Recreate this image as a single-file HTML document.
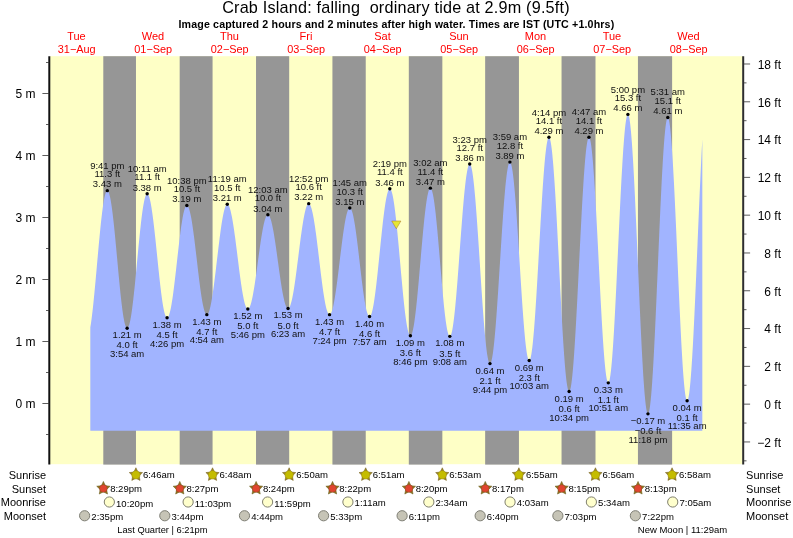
<!DOCTYPE html>
<html lang="en"><head><meta charset="utf-8"><title>Crab Island tide times</title>
<style>html,body{margin:0;padding:0;background:#fff}body{width:793px;height:538px;overflow:hidden}svg{display:block}text{font-family:"Liberation Sans","Arimo","Helvetica","Arial",sans-serif}</style>
</head><body>
<svg width="793" height="538" viewBox="0 0 793 538" role="img" aria-label="Crab Island tide chart">
<rect width="793" height="538" fill="#fff"/>
<rect x="50.00" y="56.20" width="692.50" height="408.00" fill="#feffc6"/>
<rect x="103.29" y="56.20" width="32.68" height="408.40" fill="#969696"/>
<rect x="179.68" y="56.20" width="32.89" height="408.40" fill="#969696"/>
<rect x="256.03" y="56.20" width="33.16" height="408.40" fill="#969696"/>
<rect x="332.42" y="56.20" width="33.32" height="408.40" fill="#969696"/>
<rect x="408.81" y="56.20" width="33.53" height="408.40" fill="#969696"/>
<rect x="485.15" y="56.20" width="33.79" height="408.40" fill="#969696"/>
<rect x="561.55" y="56.20" width="33.95" height="408.40" fill="#969696"/>
<rect x="637.94" y="56.20" width="34.17" height="408.40" fill="#969696"/>
<path d="M90.32,430.80 L90.32,327.35 L90.75,324.64 L91.19,321.67 L91.63,318.44 L92.06,314.98 L92.50,311.28 L92.94,307.38 L93.38,303.29 L93.81,299.03 L94.25,294.61 L94.69,290.06 L95.12,285.40 L95.56,280.64 L96.00,275.81 L96.44,270.93 L96.87,266.02 L97.31,261.10 L97.75,256.20 L98.18,251.33 L98.62,246.52 L99.06,241.80 L99.50,237.17 L99.93,232.66 L100.37,228.30 L100.81,224.09 L101.24,220.07 L101.68,216.24 L102.12,212.62 L102.56,209.24 L102.99,206.10 L103.43,203.22 L103.87,200.61 L104.30,198.28 L104.74,196.25 L105.18,194.52 L105.62,193.11 L106.05,192.00 L106.49,191.22 L106.93,190.77 L107.36,190.64 L107.80,190.84 L108.24,191.38 L108.68,192.23 L109.11,193.41 L109.55,194.91 L109.99,196.72 L110.42,198.83 L110.86,201.23 L111.30,203.91 L111.74,206.86 L112.17,210.06 L112.61,213.49 L113.05,217.15 L113.48,221.01 L113.92,225.05 L114.36,229.26 L114.80,233.62 L115.23,238.10 L115.67,242.68 L116.11,247.34 L116.54,252.06 L116.98,256.82 L117.42,261.59 L117.86,266.35 L118.29,271.07 L118.73,275.74 L119.17,280.33 L119.60,284.82 L120.04,289.19 L120.48,293.42 L120.92,297.48 L121.35,301.36 L121.79,305.04 L122.23,308.51 L122.66,311.73 L123.10,314.71 L123.54,317.41 L123.98,319.85 L124.41,321.99 L124.85,323.83 L125.29,325.36 L125.72,326.57 L126.16,327.47 L126.60,328.03 L127.04,328.27 L127.47,328.18 L127.91,327.78 L128.35,327.06 L128.78,326.03 L129.22,324.70 L129.66,323.06 L130.10,321.14 L130.53,318.93 L130.97,316.45 L131.41,313.71 L131.84,310.72 L132.28,307.50 L132.72,304.06 L133.16,300.41 L133.59,296.59 L134.03,292.59 L134.47,288.45 L134.90,284.17 L135.34,279.79 L135.78,275.32 L136.22,270.79 L136.65,266.20 L137.09,261.59 L137.53,256.98 L137.96,252.39 L138.40,247.84 L138.84,243.35 L139.28,238.95 L139.71,234.64 L140.15,230.47 L140.59,226.43 L141.02,222.56 L141.46,218.87 L141.90,215.37 L142.34,212.10 L142.77,209.05 L143.21,206.24 L143.65,203.69 L144.08,201.42 L144.52,199.42 L144.96,197.71 L145.40,196.30 L145.83,195.19 L146.27,194.39 L146.71,193.91 L147.14,193.74 L147.58,193.88 L148.02,194.31 L148.46,195.03 L148.89,196.04 L149.33,197.34 L149.77,198.91 L150.20,200.75 L150.64,202.85 L151.08,205.21 L151.52,207.80 L151.95,210.63 L152.39,213.66 L152.83,216.90 L153.26,220.32 L153.70,223.91 L154.14,227.65 L154.58,231.52 L155.01,235.51 L155.45,239.60 L155.89,243.76 L156.32,247.98 L156.76,252.23 L157.20,256.50 L157.64,260.77 L158.07,265.02 L158.51,269.22 L158.95,273.35 L159.38,277.41 L159.82,281.36 L160.26,285.19 L160.70,288.87 L161.13,292.40 L161.57,295.76 L162.01,298.93 L162.44,301.89 L162.88,304.63 L163.32,307.14 L163.76,309.41 L164.19,311.42 L164.63,313.16 L165.07,314.64 L165.50,315.83 L165.94,316.74 L166.38,317.36 L166.82,317.69 L167.25,317.72 L167.69,317.48 L168.13,316.97 L168.56,316.19 L169.00,315.15 L169.44,313.85 L169.88,312.29 L170.31,310.50 L170.75,308.47 L171.19,306.21 L171.62,303.73 L172.06,301.06 L172.50,298.19 L172.94,295.15 L173.37,291.94 L173.81,288.59 L174.25,285.11 L174.68,281.51 L175.12,277.82 L175.56,274.05 L176.00,270.22 L176.43,266.35 L176.87,262.46 L177.31,258.56 L177.74,254.68 L178.18,250.83 L178.62,247.03 L179.06,243.30 L179.49,239.66 L179.93,236.13 L180.37,232.72 L180.80,229.45 L181.24,226.34 L181.68,223.40 L182.12,220.64 L182.55,218.08 L182.99,215.72 L183.43,213.59 L183.86,211.70 L184.30,210.04 L184.74,208.63 L185.18,207.48 L185.61,206.59 L186.05,205.97 L186.49,205.61 L186.92,205.52 L187.36,205.70 L187.80,206.13 L188.24,206.82 L188.67,207.76 L189.11,208.95 L189.55,210.38 L189.98,212.04 L190.42,213.93 L190.86,216.04 L191.30,218.36 L191.73,220.87 L192.17,223.57 L192.61,226.44 L193.04,229.47 L193.48,232.65 L193.92,235.95 L194.36,239.37 L194.79,242.89 L195.23,246.48 L195.67,250.15 L196.10,253.85 L196.54,257.59 L196.98,261.34 L197.42,265.09 L197.85,268.81 L198.29,272.49 L198.73,276.11 L199.16,279.65 L199.60,283.11 L200.04,286.45 L200.48,289.67 L200.91,292.75 L201.35,295.67 L201.79,298.43 L202.22,301.00 L202.66,303.39 L203.10,305.56 L203.54,307.53 L203.97,309.27 L204.41,310.77 L204.85,312.04 L205.28,313.06 L205.72,313.83 L206.16,314.35 L206.60,314.61 L207.03,314.61 L207.47,314.36 L207.91,313.87 L208.34,313.13 L208.78,312.15 L209.22,310.93 L209.66,309.48 L210.09,307.81 L210.53,305.92 L210.97,303.81 L211.40,301.51 L211.84,299.02 L212.28,296.35 L212.72,293.51 L213.15,290.52 L213.59,287.39 L214.03,284.14 L214.46,280.77 L214.90,277.30 L215.34,273.76 L215.78,270.15 L216.21,266.50 L216.65,262.81 L217.09,259.11 L217.52,255.40 L217.96,251.72 L218.40,248.07 L218.84,244.48 L219.27,240.95 L219.71,237.50 L220.15,234.15 L220.58,230.92 L221.02,227.82 L221.46,224.86 L221.90,222.05 L222.33,219.41 L222.77,216.96 L223.21,214.69 L223.64,212.63 L224.08,210.77 L224.52,209.14 L224.96,207.74 L225.39,206.56 L225.83,205.63 L226.27,204.94 L226.70,204.49 L227.14,204.29 L227.58,204.34 L228.02,204.62 L228.45,205.13 L228.89,205.87 L229.33,206.84 L229.76,208.03 L230.20,209.44 L230.64,211.06 L231.08,212.88 L231.51,214.90 L231.95,217.10 L232.39,219.49 L232.82,222.03 L233.26,224.73 L233.70,227.58 L234.14,230.55 L234.57,233.64 L235.01,236.83 L235.45,240.11 L235.88,243.47 L236.32,246.88 L236.76,250.34 L237.20,253.82 L237.63,257.32 L238.07,260.82 L238.51,264.29 L238.94,267.73 L239.38,271.13 L239.82,274.46 L240.26,277.71 L240.69,280.86 L241.13,283.91 L241.57,286.84 L242.00,289.63 L242.44,292.27 L242.88,294.76 L243.32,297.08 L243.75,299.21 L244.19,301.16 L244.63,302.90 L245.06,304.45 L245.50,305.77 L245.94,306.88 L246.38,307.77 L246.81,308.43 L247.25,308.85 L247.69,309.05 L248.12,309.01 L248.56,308.75 L249.00,308.27 L249.44,307.58 L249.87,306.66 L250.31,305.54 L250.75,304.22 L251.18,302.69 L251.62,300.98 L252.06,299.08 L252.50,297.00 L252.93,294.76 L253.37,292.37 L253.81,289.83 L254.24,287.16 L254.68,284.38 L255.12,281.49 L255.56,278.50 L255.99,275.44 L256.43,272.32 L256.87,269.14 L257.30,265.93 L257.74,262.71 L258.18,259.48 L258.62,256.26 L259.05,253.07 L259.49,249.92 L259.93,246.83 L260.36,243.80 L260.80,240.87 L261.24,238.03 L261.68,235.30 L262.11,232.70 L262.55,230.24 L262.99,227.92 L263.42,225.77 L263.86,223.79 L264.30,221.98 L264.74,220.36 L265.17,218.94 L265.61,217.72 L266.05,216.71 L266.48,215.91 L266.92,215.33 L267.36,214.97 L267.80,214.82 L268.23,214.90 L268.67,215.19 L269.11,215.70 L269.54,216.42 L269.98,217.35 L270.42,218.48 L270.86,219.82 L271.29,221.34 L271.73,223.06 L272.17,224.95 L272.60,227.01 L273.04,229.23 L273.48,231.61 L273.92,234.12 L274.35,236.75 L274.79,239.51 L275.23,242.36 L275.66,245.31 L276.10,248.33 L276.54,251.41 L276.98,254.54 L277.41,257.70 L277.85,260.88 L278.29,264.06 L278.72,267.23 L279.16,270.38 L279.60,273.49 L280.04,276.54 L280.47,279.52 L280.91,282.42 L281.35,285.22 L281.78,287.91 L282.22,290.49 L282.66,292.92 L283.10,295.22 L283.53,297.36 L283.97,299.33 L284.41,301.13 L284.84,302.75 L285.28,304.17 L285.72,305.40 L286.16,306.43 L286.59,307.25 L287.03,307.86 L287.47,308.25 L287.90,308.43 L288.34,308.39 L288.78,308.12 L289.22,307.62 L289.65,306.89 L290.09,305.93 L290.53,304.76 L290.96,303.37 L291.40,301.77 L291.84,299.98 L292.28,297.98 L292.71,295.80 L293.15,293.45 L293.59,290.93 L294.02,288.26 L294.46,285.44 L294.90,282.50 L295.34,279.44 L295.77,276.27 L296.21,273.02 L296.65,269.69 L297.08,266.30 L297.52,262.87 L297.96,259.40 L298.40,255.92 L298.83,252.44 L299.27,248.98 L299.71,245.55 L300.14,242.16 L300.58,238.84 L301.02,235.59 L301.46,232.44 L301.89,229.38 L302.33,226.45 L302.77,223.64 L303.20,220.98 L303.64,218.47 L304.08,216.13 L304.52,213.97 L304.95,211.99 L305.39,210.20 L305.83,208.62 L306.26,207.25 L306.70,206.09 L307.14,205.15 L307.58,204.44 L308.01,203.96 L308.45,203.70 L308.89,203.68 L309.32,203.90 L309.76,204.35 L310.20,205.05 L310.64,205.98 L311.07,207.14 L311.51,208.53 L311.95,210.14 L312.38,211.96 L312.82,213.98 L313.26,216.21 L313.70,218.61 L314.13,221.20 L314.57,223.95 L315.01,226.85 L315.44,229.90 L315.88,233.07 L316.32,236.35 L316.76,239.74 L317.19,243.20 L317.63,246.74 L318.07,250.33 L318.50,253.96 L318.94,257.61 L319.38,261.27 L319.82,264.92 L320.25,268.55 L320.69,272.13 L321.13,275.66 L321.56,279.11 L322.00,282.48 L322.44,285.75 L322.88,288.90 L323.31,291.92 L323.75,294.80 L324.19,297.52 L324.62,300.08 L325.06,302.46 L325.50,304.65 L325.94,306.65 L326.37,308.44 L326.81,310.01 L327.25,311.36 L327.68,312.49 L328.12,313.38 L328.56,314.04 L329.00,314.45 L329.43,314.63 L329.87,314.57 L330.31,314.26 L330.74,313.71 L331.18,312.91 L331.62,311.88 L332.06,310.62 L332.49,309.13 L332.93,307.42 L333.37,305.49 L333.80,303.37 L334.24,301.05 L334.68,298.55 L335.12,295.87 L335.55,293.04 L335.99,290.06 L336.43,286.95 L336.86,283.72 L337.30,280.39 L337.74,276.97 L338.18,273.48 L338.61,269.93 L339.05,266.34 L339.49,262.73 L339.92,259.12 L340.36,255.51 L340.80,251.93 L341.24,248.39 L341.67,244.91 L342.11,241.51 L342.55,238.20 L342.98,235.00 L343.42,231.91 L343.86,228.97 L344.30,226.17 L344.73,223.53 L345.17,221.07 L345.61,218.79 L346.04,216.71 L346.48,214.83 L346.92,213.17 L347.36,211.72 L347.79,210.51 L348.23,209.53 L348.67,208.79 L349.10,208.29 L349.54,208.04 L349.98,208.03 L350.42,208.28 L350.85,208.79 L351.29,209.56 L351.73,210.58 L352.16,211.86 L352.60,213.37 L353.04,215.12 L353.48,217.10 L353.91,219.30 L354.35,221.71 L354.79,224.31 L355.22,227.09 L355.66,230.05 L356.10,233.15 L356.54,236.40 L356.97,239.78 L357.41,243.26 L357.85,246.84 L358.28,250.48 L358.72,254.19 L359.16,257.93 L359.60,261.70 L360.03,265.47 L360.47,269.22 L360.91,272.94 L361.34,276.61 L361.78,280.20 L362.22,283.72 L362.66,287.12 L363.09,290.41 L363.53,293.56 L363.97,296.56 L364.40,299.40 L364.84,302.05 L365.28,304.52 L365.72,306.78 L366.15,308.82 L366.59,310.64 L367.03,312.23 L367.46,313.57 L367.90,314.67 L368.34,315.51 L368.78,316.10 L369.21,316.43 L369.65,316.49 L370.09,316.27 L370.52,315.76 L370.96,314.96 L371.40,313.88 L371.84,312.51 L372.27,310.87 L372.71,308.97 L373.15,306.80 L373.58,304.39 L374.02,301.74 L374.46,298.87 L374.90,295.79 L375.33,292.50 L375.77,289.04 L376.21,285.41 L376.64,281.63 L377.08,277.71 L377.52,273.68 L377.96,269.56 L378.39,265.35 L378.83,261.09 L379.27,256.79 L379.70,252.47 L380.14,248.16 L380.58,243.86 L381.02,239.60 L381.45,235.41 L381.89,231.29 L382.33,227.27 L382.76,223.36 L383.20,219.59 L383.64,215.97 L384.08,212.52 L384.51,209.25 L384.95,206.18 L385.39,203.33 L385.82,200.70 L386.26,198.30 L386.70,196.16 L387.14,194.27 L387.57,192.65 L388.01,191.31 L388.45,190.25 L388.88,189.47 L389.32,188.98 L389.76,188.78 L390.20,188.89 L390.63,189.33 L391.07,190.09 L391.51,191.17 L391.94,192.57 L392.38,194.27 L392.82,196.29 L393.26,198.59 L393.69,201.18 L394.13,204.05 L394.57,207.17 L395.00,210.54 L395.44,214.14 L395.88,217.95 L396.32,221.96 L396.75,226.15 L397.19,230.50 L397.63,235.00 L398.06,239.61 L398.50,244.33 L398.94,249.12 L399.38,253.98 L399.81,258.87 L400.25,263.78 L400.69,268.67 L401.12,273.55 L401.56,278.37 L402.00,283.11 L402.44,287.77 L402.87,292.31 L403.31,296.72 L403.75,300.97 L404.18,305.05 L404.62,308.94 L405.06,312.63 L405.50,316.08 L405.93,319.30 L406.37,322.26 L406.81,324.96 L407.24,327.37 L407.68,329.50 L408.12,331.32 L408.56,332.84 L408.99,334.04 L409.43,334.92 L409.87,335.48 L410.30,335.71 L410.74,335.61 L411.18,335.16 L411.62,334.36 L412.05,333.22 L412.49,331.75 L412.93,329.94 L413.36,327.81 L413.80,325.38 L414.24,322.64 L414.68,319.61 L415.11,316.32 L415.55,312.76 L415.99,308.97 L416.42,304.95 L416.86,300.73 L417.30,296.33 L417.74,291.76 L418.17,287.05 L418.61,282.23 L419.05,277.31 L419.48,272.31 L419.92,267.27 L420.36,262.20 L420.80,257.14 L421.23,252.09 L421.67,247.09 L422.11,242.16 L422.54,237.32 L422.98,232.60 L423.42,228.02 L423.86,223.60 L424.29,219.36 L424.73,215.32 L425.17,211.50 L425.60,207.92 L426.04,204.60 L426.48,201.54 L426.92,198.78 L427.35,196.31 L427.79,194.15 L428.23,192.31 L428.66,190.80 L429.10,189.62 L429.54,188.79 L429.98,188.30 L430.41,188.16 L430.85,188.38 L431.29,188.97 L431.72,189.93 L432.16,191.25 L432.60,192.92 L433.04,194.93 L433.47,197.28 L433.91,199.96 L434.35,202.95 L434.78,206.23 L435.22,209.79 L435.66,213.61 L436.10,217.68 L436.53,221.97 L436.97,226.46 L437.41,231.12 L437.84,235.94 L438.28,240.90 L438.72,245.96 L439.16,251.10 L439.59,256.30 L440.03,261.52 L440.47,266.75 L440.90,271.96 L441.34,277.12 L441.78,282.21 L442.22,287.19 L442.65,292.05 L443.09,296.77 L443.53,301.31 L443.96,305.65 L444.40,309.78 L444.84,313.67 L445.28,317.31 L445.71,320.67 L446.15,323.74 L446.59,326.50 L447.02,328.95 L447.46,331.06 L447.90,332.83 L448.34,334.24 L448.77,335.30 L449.21,335.99 L449.65,336.31 L450.08,336.26 L450.52,335.80 L450.96,334.94 L451.40,333.67 L451.83,332.00 L452.27,329.95 L452.71,327.52 L453.14,324.72 L453.58,321.56 L454.02,318.07 L454.46,314.25 L454.89,310.13 L455.33,305.73 L455.77,301.06 L456.20,296.15 L456.64,291.02 L457.08,285.69 L457.52,280.20 L457.95,274.56 L458.39,268.81 L458.83,262.97 L459.26,257.07 L459.70,251.14 L460.14,245.20 L460.58,239.29 L461.01,233.42 L461.45,227.64 L461.89,221.96 L462.32,216.42 L462.76,211.04 L463.20,205.84 L463.64,200.86 L464.07,196.11 L464.51,191.61 L464.95,187.39 L465.38,183.48 L465.82,179.87 L466.26,176.61 L466.70,173.69 L467.13,171.13 L467.57,168.95 L468.01,167.16 L468.44,165.76 L468.88,164.76 L469.32,164.17 L469.76,163.98 L470.19,164.23 L470.63,164.94 L471.07,166.11 L471.50,167.72 L471.94,169.78 L472.38,172.27 L472.82,175.18 L473.25,178.50 L473.69,182.21 L474.13,186.30 L474.56,190.74 L475.00,195.52 L475.44,200.61 L475.88,206.00 L476.31,211.65 L476.75,217.54 L477.19,223.64 L477.62,229.93 L478.06,236.37 L478.50,242.94 L478.94,249.61 L479.37,256.34 L479.81,263.11 L480.25,269.88 L480.68,276.62 L481.12,283.30 L481.56,289.89 L482.00,296.36 L482.43,302.69 L482.87,308.83 L483.31,314.77 L483.74,320.47 L484.18,325.91 L484.62,331.06 L485.06,335.91 L485.49,340.42 L485.93,344.58 L486.37,348.37 L486.80,351.77 L487.24,354.77 L487.68,357.35 L488.12,359.49 L488.55,361.20 L488.99,362.46 L489.43,363.26 L489.86,363.61 L490.30,363.49 L490.74,362.89 L491.18,361.82 L491.61,360.28 L492.05,358.27 L492.49,355.82 L492.92,352.92 L493.36,349.59 L493.80,345.85 L494.24,341.72 L494.67,337.22 L495.11,332.35 L495.55,327.16 L495.98,321.67 L496.42,315.89 L496.86,309.87 L497.30,303.62 L497.73,297.17 L498.17,290.57 L498.61,283.83 L499.04,276.99 L499.48,270.09 L499.92,263.15 L500.36,256.21 L500.79,249.30 L501.23,242.45 L501.67,235.71 L502.10,229.09 L502.54,222.63 L502.98,216.36 L503.42,210.32 L503.85,204.52 L504.29,199.00 L504.73,193.79 L505.16,188.90 L505.60,184.36 L506.04,180.20 L506.48,176.43 L506.91,173.07 L507.35,170.14 L507.79,167.65 L508.22,165.60 L508.66,164.03 L509.10,162.92 L509.54,162.28 L509.97,162.13 L510.41,162.46 L510.85,163.30 L511.28,164.63 L511.72,166.45 L512.16,168.74 L512.60,171.50 L513.03,174.72 L513.47,178.37 L513.91,182.44 L514.34,186.91 L514.78,191.75 L515.22,196.94 L515.66,202.46 L516.09,208.27 L516.53,214.36 L516.97,220.67 L517.40,227.20 L517.84,233.89 L518.28,240.73 L518.72,247.66 L519.15,254.67 L519.59,261.71 L520.03,268.75 L520.46,275.75 L520.90,282.68 L521.34,289.50 L521.78,296.18 L522.21,302.68 L522.65,308.97 L523.09,315.03 L523.52,320.81 L523.96,326.29 L524.40,331.45 L524.84,336.25 L525.27,340.67 L525.71,344.70 L526.15,348.30 L526.58,351.47 L527.02,354.18 L527.46,356.42 L527.90,358.18 L528.33,359.46 L528.77,360.24 L529.21,360.52 L529.64,360.28 L530.08,359.50 L530.52,358.19 L530.96,356.35 L531.39,353.98 L531.83,351.10 L532.27,347.73 L532.70,343.88 L533.14,339.57 L533.58,334.82 L534.02,329.65 L534.45,324.09 L534.89,318.16 L535.33,311.90 L535.76,305.33 L536.20,298.49 L536.64,291.41 L537.08,284.12 L537.51,276.67 L537.95,269.07 L538.39,261.38 L538.82,253.63 L539.26,245.86 L539.70,238.10 L540.14,230.39 L540.57,222.77 L541.01,215.28 L541.45,207.96 L541.88,200.83 L542.32,193.93 L542.76,187.30 L543.20,180.98 L543.63,174.98 L544.07,169.34 L544.51,164.08 L544.94,159.24 L545.38,154.83 L545.82,150.88 L546.26,147.41 L546.69,144.43 L547.13,141.95 L547.57,140.00 L548.00,138.57 L548.44,137.68 L548.88,137.33 L549.32,137.53 L549.75,138.33 L550.19,139.70 L550.63,141.66 L551.06,144.18 L551.50,147.26 L551.94,150.87 L552.38,155.02 L552.81,159.67 L553.25,164.81 L553.69,170.40 L554.12,176.43 L554.56,182.87 L555.00,189.69 L555.44,196.85 L555.87,204.32 L556.31,212.08 L556.75,220.07 L557.18,228.27 L557.62,236.64 L558.06,245.13 L558.50,253.71 L558.93,262.35 L559.37,270.99 L559.81,279.60 L560.24,288.15 L560.68,296.58 L561.12,304.86 L561.56,312.96 L561.99,320.83 L562.43,328.45 L562.87,335.76 L563.30,342.75 L563.74,349.37 L564.18,355.60 L564.62,361.41 L565.05,366.77 L565.49,371.65 L565.93,376.04 L566.36,379.92 L566.80,383.26 L567.24,386.05 L567.68,388.27 L568.11,389.93 L568.55,391.00 L568.99,391.49 L569.42,391.38 L569.86,390.67 L570.30,389.35 L570.74,387.43 L571.17,384.92 L571.61,381.83 L572.05,378.18 L572.48,373.98 L572.92,369.26 L573.36,364.03 L573.80,358.32 L574.23,352.17 L574.67,345.59 L575.11,338.62 L575.54,331.30 L575.98,323.65 L576.42,315.72 L576.86,307.54 L577.29,299.16 L577.73,290.61 L578.17,281.94 L578.60,273.18 L579.04,264.37 L579.48,255.57 L579.92,246.81 L580.35,238.14 L580.79,229.59 L581.23,221.21 L581.66,213.04 L582.10,205.11 L582.54,197.47 L582.98,190.15 L583.41,183.18 L583.85,176.61 L584.29,170.46 L584.72,164.75 L585.16,159.53 L585.60,154.81 L586.04,150.62 L586.47,146.97 L586.91,143.89 L587.35,141.39 L587.78,139.47 L588.22,138.16 L588.66,137.45 L589.10,137.36 L589.53,137.88 L589.97,139.01 L590.41,140.76 L590.84,143.11 L591.28,146.04 L591.72,149.56 L592.16,153.63 L592.59,158.23 L593.03,163.35 L593.47,168.96 L593.90,175.03 L594.34,181.52 L594.78,188.41 L595.22,195.67 L595.65,203.25 L596.09,211.11 L596.53,219.22 L596.96,227.54 L597.40,236.02 L597.84,244.62 L598.28,253.30 L598.71,262.02 L599.15,270.72 L599.59,279.37 L600.02,287.93 L600.46,296.34 L600.90,304.57 L601.34,312.58 L601.77,320.32 L602.21,327.76 L602.65,334.86 L603.08,341.58 L603.52,347.88 L603.96,353.75 L604.40,359.15 L604.83,364.04 L605.27,368.41 L605.71,372.24 L606.14,375.49 L606.58,378.17 L607.02,380.25 L607.46,381.73 L607.89,382.59 L608.33,382.84 L608.77,382.44 L609.20,381.38 L609.64,379.68 L610.08,377.33 L610.52,374.35 L610.95,370.75 L611.39,366.56 L611.83,361.78 L612.26,356.45 L612.70,350.59 L613.14,344.23 L613.58,337.40 L614.01,330.14 L614.45,322.48 L614.89,314.45 L615.32,306.10 L615.76,297.47 L616.20,288.60 L616.64,279.53 L617.07,270.31 L617.51,260.98 L617.95,251.60 L618.38,242.20 L618.82,232.83 L619.26,223.53 L619.70,214.37 L620.13,205.36 L620.57,196.58 L621.01,188.04 L621.44,179.81 L621.88,171.91 L622.32,164.38 L622.76,157.27 L623.19,150.61 L623.63,144.43 L624.07,138.76 L624.50,133.63 L624.94,129.07 L625.38,125.09 L625.82,121.71 L626.25,118.96 L626.69,116.84 L627.13,115.38 L627.56,114.56 L628.00,114.40 L628.44,114.94 L628.88,116.17 L629.31,118.09 L629.75,120.69 L630.19,123.97 L630.62,127.89 L631.06,132.46 L631.50,137.64 L631.94,143.42 L632.37,149.75 L632.81,156.63 L633.25,164.00 L633.68,171.84 L634.12,180.12 L634.56,188.78 L635.00,197.80 L635.43,207.13 L635.87,216.73 L636.31,226.54 L636.74,236.54 L637.18,246.66 L637.62,256.86 L638.06,267.10 L638.49,277.32 L638.93,287.48 L639.37,297.53 L639.80,307.43 L640.24,317.12 L640.68,326.57 L641.12,335.72 L641.55,344.54 L641.99,352.98 L642.43,361.01 L642.86,368.58 L643.30,375.67 L643.74,382.23 L644.18,388.24 L644.61,393.67 L645.05,398.50 L645.49,402.70 L645.92,406.25 L646.36,409.13 L646.80,411.34 L647.24,412.86 L647.67,413.68 L648.11,413.80 L648.55,413.22 L648.98,411.92 L649.42,409.93 L649.86,407.24 L650.30,403.87 L650.73,399.84 L651.17,395.16 L651.61,389.86 L652.04,383.97 L652.48,377.51 L652.92,370.51 L653.36,363.01 L653.79,355.04 L654.23,346.64 L654.67,337.85 L655.10,328.71 L655.54,319.28 L655.98,309.58 L656.42,299.68 L656.85,289.61 L657.29,279.42 L657.73,269.17 L658.16,258.91 L658.60,248.67 L659.04,238.52 L659.48,228.49 L659.91,218.65 L660.35,209.03 L660.79,199.69 L661.22,190.66 L661.66,181.99 L662.10,173.72 L662.54,165.89 L662.97,158.54 L663.41,151.71 L663.85,145.42 L664.28,139.72 L664.72,134.61 L665.16,130.14 L665.60,126.31 L666.03,123.16 L666.47,120.69 L666.91,118.91 L667.34,117.84 L667.78,117.48 L668.22,117.83 L668.66,118.90 L669.09,120.67 L669.53,123.14 L669.97,126.29 L670.40,130.12 L670.84,134.60 L671.28,139.70 L671.72,145.41 L672.15,151.68 L672.59,158.51 L673.03,165.83 L673.46,173.63 L673.90,181.86 L674.34,190.48 L674.78,199.45 L675.21,208.72 L675.65,218.24 L676.09,227.97 L676.52,237.85 L676.96,247.84 L677.40,257.89 L677.84,267.95 L678.27,277.96 L678.71,287.88 L679.15,297.65 L679.58,307.22 L680.02,316.56 L680.46,325.61 L680.90,334.32 L681.33,342.65 L681.77,350.56 L682.21,358.01 L682.64,364.96 L683.08,371.38 L683.52,377.23 L683.96,382.49 L684.39,387.12 L684.83,391.11 L685.27,394.44 L685.70,397.08 L686.14,399.03 L686.58,400.27 L687.02,400.80 L687.45,400.62 L687.89,399.77 L688.33,398.23 L688.76,396.03 L689.20,393.16 L689.64,389.64 L690.08,385.49 L690.51,380.72 L690.95,375.36 L691.39,369.42 L691.82,362.94 L692.26,355.94 L692.70,348.45 L693.14,340.50 L693.57,332.13 L694.01,323.38 L694.45,314.28 L694.88,304.86 L695.32,295.18 L695.76,285.28 L696.20,275.19 L696.63,264.96 L697.07,254.63 L697.51,244.25 L697.94,233.87 L698.38,223.52 L698.82,213.26 L699.26,203.12 L699.69,193.16 L700.13,183.41 L700.57,173.91 L701.00,164.71 L701.44,155.85 L701.88,147.37 L702.32,139.29 L702.32,430.80 Z" fill="#a1b4ff"/>
<g stroke="#111" stroke-width="2.00" fill="none">
<line x1="49.30" y1="56.20" x2="49.30" y2="464.60"/>
<line x1="743.20" y1="56.20" x2="743.20" y2="464.60" stroke="#2e2e2e"/>
</g>
<g stroke="#333" stroke-width="0.80" fill="none">
<line x1="46.00" y1="434.50" x2="49.30" y2="434.50"/>
<line x1="42.40" y1="403.50" x2="49.30" y2="403.50"/>
<line x1="46.00" y1="372.50" x2="49.30" y2="372.50"/>
<line x1="42.40" y1="341.50" x2="49.30" y2="341.50"/>
<line x1="46.00" y1="310.50" x2="49.30" y2="310.50"/>
<line x1="42.40" y1="279.50" x2="49.30" y2="279.50"/>
<line x1="46.00" y1="248.50" x2="49.30" y2="248.50"/>
<line x1="42.40" y1="217.50" x2="49.30" y2="217.50"/>
<line x1="46.00" y1="186.50" x2="49.30" y2="186.50"/>
<line x1="42.40" y1="155.50" x2="49.30" y2="155.50"/>
<line x1="46.00" y1="124.50" x2="49.30" y2="124.50"/>
<line x1="42.40" y1="93.50" x2="49.30" y2="93.50"/>
<line x1="46.00" y1="62.50" x2="49.30" y2="62.50"/>
<line x1="743.20" y1="460.84" x2="746.50" y2="460.84"/>
<line x1="743.20" y1="441.95" x2="750.10" y2="441.95"/>
<line x1="743.20" y1="423.05" x2="746.50" y2="423.05"/>
<line x1="743.20" y1="404.15" x2="750.10" y2="404.15"/>
<line x1="743.20" y1="385.25" x2="746.50" y2="385.25"/>
<line x1="743.20" y1="366.35" x2="750.10" y2="366.35"/>
<line x1="743.20" y1="347.46" x2="746.50" y2="347.46"/>
<line x1="743.20" y1="328.56" x2="750.10" y2="328.56"/>
<line x1="743.20" y1="309.66" x2="746.50" y2="309.66"/>
<line x1="743.20" y1="290.76" x2="750.10" y2="290.76"/>
<line x1="743.20" y1="271.87" x2="746.50" y2="271.87"/>
<line x1="743.20" y1="252.97" x2="750.10" y2="252.97"/>
<line x1="743.20" y1="234.07" x2="746.50" y2="234.07"/>
<line x1="743.20" y1="215.17" x2="750.10" y2="215.17"/>
<line x1="743.20" y1="196.28" x2="746.50" y2="196.28"/>
<line x1="743.20" y1="177.38" x2="750.10" y2="177.38"/>
<line x1="743.20" y1="158.48" x2="746.50" y2="158.48"/>
<line x1="743.20" y1="139.58" x2="750.10" y2="139.58"/>
<line x1="743.20" y1="120.69" x2="746.50" y2="120.69"/>
<line x1="743.20" y1="101.79" x2="750.10" y2="101.79"/>
<line x1="743.20" y1="82.89" x2="746.50" y2="82.89"/>
<line x1="743.20" y1="63.99" x2="750.10" y2="63.99"/>
</g>
<g font-size="12.00" fill="#000">
<text x="35.60" y="407.60" text-anchor="end">0 m</text>
<text x="35.60" y="345.60" text-anchor="end">1 m</text>
<text x="35.60" y="283.60" text-anchor="end">2 m</text>
<text x="35.60" y="221.60" text-anchor="end">3 m</text>
<text x="35.60" y="159.60" text-anchor="end">4 m</text>
<text x="35.60" y="97.60" text-anchor="end">5 m</text>
<text x="781.00" y="446.70" text-anchor="end">−2 ft</text>
<text x="781.00" y="408.90" text-anchor="end">0 ft</text>
<text x="781.00" y="371.10" text-anchor="end">2 ft</text>
<text x="781.00" y="333.31" text-anchor="end">4 ft</text>
<text x="781.00" y="295.51" text-anchor="end">6 ft</text>
<text x="781.00" y="257.72" text-anchor="end">8 ft</text>
<text x="781.00" y="219.92" text-anchor="end">10 ft</text>
<text x="781.00" y="182.13" text-anchor="end">12 ft</text>
<text x="781.00" y="144.33" text-anchor="end">14 ft</text>
<text x="781.00" y="106.54" text-anchor="end">16 ft</text>
<text x="781.00" y="68.74" text-anchor="end">18 ft</text>
</g>
<text x="396.00" y="13.25" font-size="16.20" letter-spacing="0.200" text-anchor="middle" fill="#000" xml:space="preserve" style="white-space:pre">Crab Island: falling  ordinary tide at 2.9m (9.5ft)</text>
<text x="396.40" y="27.50" font-size="10.67" letter-spacing="0.144" font-weight="bold" text-anchor="middle" fill="#000">Image captured 2 hours and 2 minutes after high water. Times are IST (UTC +1.0hrs)</text>
<g font-size="11.00" fill="#ff0000" text-anchor="middle">
<text x="76.45" y="40.30">Tue</text>
<text x="76.75" y="52.90" font-size="10.90">31−Aug</text>
<text x="152.95" y="40.30">Wed</text>
<text x="153.25" y="52.90" font-size="10.90">01−Sep</text>
<text x="229.45" y="40.30">Thu</text>
<text x="229.75" y="52.90" font-size="10.90">02−Sep</text>
<text x="305.95" y="40.30">Fri</text>
<text x="306.25" y="52.90" font-size="10.90">03−Sep</text>
<text x="382.45" y="40.30">Sat</text>
<text x="382.75" y="52.90" font-size="10.90">04−Sep</text>
<text x="458.95" y="40.30">Sun</text>
<text x="459.25" y="52.90" font-size="10.90">05−Sep</text>
<text x="535.45" y="40.30">Mon</text>
<text x="535.75" y="52.90" font-size="10.90">06−Sep</text>
<text x="611.95" y="40.30">Tue</text>
<text x="612.25" y="52.90" font-size="10.90">07−Sep</text>
<text x="688.45" y="40.30">Wed</text>
<text x="688.75" y="52.90" font-size="10.90">08−Sep</text>
</g>
<g font-size="9.50" fill="#111" text-anchor="middle">
<text x="107.32" y="169.24">9:41 pm</text>
<text x="107.32" y="177.24">11.3 ft</text>
<text x="107.32" y="187.44">3.43 m</text>
<text x="127.13" y="338.28">1.21 m</text>
<text x="127.13" y="348.48">4.0 ft</text>
<text x="127.13" y="356.88">3:54 am</text>
<text x="147.16" y="171.74">10:11 am</text>
<text x="147.16" y="180.34">11.1 ft</text>
<text x="147.16" y="190.54">3.38 m</text>
<text x="167.08" y="327.74">1.38 m</text>
<text x="167.08" y="337.94">4.5 ft</text>
<text x="167.08" y="346.94">4:26 pm</text>
<text x="186.84" y="184.12">10:38 pm</text>
<text x="186.84" y="192.12">10.5 ft</text>
<text x="186.84" y="202.32">3.19 m</text>
<text x="206.82" y="324.64">1.43 m</text>
<text x="206.82" y="334.84">4.7 ft</text>
<text x="206.82" y="343.24">4:54 am</text>
<text x="227.27" y="182.28">11:19 am</text>
<text x="227.27" y="190.88">10.5 ft</text>
<text x="227.27" y="201.08">3.21 m</text>
<text x="247.83" y="319.06">1.52 m</text>
<text x="247.83" y="329.26">5.0 ft</text>
<text x="247.83" y="338.26">5:46 pm</text>
<text x="267.86" y="192.82">12:03 am</text>
<text x="267.86" y="201.42">10.0 ft</text>
<text x="267.86" y="211.62">3.04 m</text>
<text x="288.05" y="318.44">1.53 m</text>
<text x="288.05" y="328.64">5.0 ft</text>
<text x="288.05" y="337.04">6:23 am</text>
<text x="308.71" y="182.26">12:52 pm</text>
<text x="308.71" y="190.26">10.6 ft</text>
<text x="308.71" y="200.46">3.22 m</text>
<text x="329.54" y="324.64">1.43 m</text>
<text x="329.54" y="334.84">4.7 ft</text>
<text x="329.54" y="343.84">7:24 pm</text>
<text x="349.78" y="186.00">1:45 am</text>
<text x="349.78" y="194.60">10.3 ft</text>
<text x="349.78" y="204.80">3.15 m</text>
<text x="369.54" y="326.50">1.40 m</text>
<text x="369.54" y="336.70">4.6 ft</text>
<text x="369.54" y="345.10">7:57 am</text>
<text x="389.83" y="167.38">2:19 pm</text>
<text x="389.83" y="175.38">11.4 ft</text>
<text x="389.83" y="185.58">3.46 m</text>
<text x="410.39" y="345.72">1.09 m</text>
<text x="410.39" y="355.92">3.6 ft</text>
<text x="410.39" y="364.92">8:46 pm</text>
<text x="430.37" y="166.16">3:02 am</text>
<text x="430.37" y="174.76">11.4 ft</text>
<text x="430.37" y="184.96">3.47 m</text>
<text x="449.81" y="346.34">1.08 m</text>
<text x="449.81" y="356.54">3.5 ft</text>
<text x="449.81" y="364.94">9:08 am</text>
<text x="469.73" y="142.58">3:23 pm</text>
<text x="469.73" y="150.58">12.7 ft</text>
<text x="469.73" y="160.78">3.86 m</text>
<text x="489.97" y="373.62">0.64 m</text>
<text x="489.97" y="383.82">2.1 ft</text>
<text x="489.97" y="392.82">9:44 pm</text>
<text x="509.90" y="140.12">3:59 am</text>
<text x="509.90" y="148.72">12.8 ft</text>
<text x="509.90" y="158.92">3.89 m</text>
<text x="529.23" y="370.52">0.69 m</text>
<text x="529.23" y="380.72">2.3 ft</text>
<text x="529.23" y="389.12">10:03 am</text>
<text x="548.94" y="115.92">4:14 pm</text>
<text x="548.94" y="123.92">14.1 ft</text>
<text x="548.94" y="134.12">4.29 m</text>
<text x="569.13" y="401.52">0.19 m</text>
<text x="569.13" y="411.72">0.6 ft</text>
<text x="569.13" y="420.72">10:34 pm</text>
<text x="588.95" y="115.32">4:47 am</text>
<text x="588.95" y="123.92">14.1 ft</text>
<text x="588.95" y="134.12">4.29 m</text>
<text x="608.28" y="392.84">0.33 m</text>
<text x="608.28" y="403.04">1.1 ft</text>
<text x="608.28" y="411.44">10:51 am</text>
<text x="627.89" y="92.98">5:00 pm</text>
<text x="627.89" y="100.98">15.3 ft</text>
<text x="627.89" y="111.18">4.66 m</text>
<text x="647.97" y="423.84">−0.17 m</text>
<text x="647.97" y="434.04">−0.6 ft</text>
<text x="647.97" y="443.04">11:18 pm</text>
<text x="667.78" y="95.48">5:31 am</text>
<text x="667.78" y="104.08">15.1 ft</text>
<text x="667.78" y="114.28">4.61 m</text>
<text x="687.12" y="410.82">0.04 m</text>
<text x="687.12" y="421.02">0.1 ft</text>
<text x="687.12" y="429.42">11:35 am</text>
</g>
<g fill="#000">
<circle cx="107.32" cy="190.64" r="1.70"/>
<circle cx="127.13" cy="328.28" r="1.70"/>
<circle cx="147.16" cy="193.74" r="1.70"/>
<circle cx="167.08" cy="317.74" r="1.70"/>
<circle cx="186.84" cy="205.52" r="1.70"/>
<circle cx="206.82" cy="314.64" r="1.70"/>
<circle cx="227.27" cy="204.28" r="1.70"/>
<circle cx="247.83" cy="309.06" r="1.70"/>
<circle cx="267.86" cy="214.82" r="1.70"/>
<circle cx="288.05" cy="308.44" r="1.70"/>
<circle cx="308.71" cy="203.66" r="1.70"/>
<circle cx="329.54" cy="314.64" r="1.70"/>
<circle cx="349.78" cy="208.00" r="1.70"/>
<circle cx="369.54" cy="316.50" r="1.70"/>
<circle cx="389.83" cy="188.78" r="1.70"/>
<circle cx="410.39" cy="335.72" r="1.70"/>
<circle cx="430.37" cy="188.16" r="1.70"/>
<circle cx="449.81" cy="336.34" r="1.70"/>
<circle cx="469.73" cy="163.98" r="1.70"/>
<circle cx="489.97" cy="363.62" r="1.70"/>
<circle cx="509.90" cy="162.12" r="1.70"/>
<circle cx="529.23" cy="360.52" r="1.70"/>
<circle cx="548.94" cy="137.32" r="1.70"/>
<circle cx="569.13" cy="391.52" r="1.70"/>
<circle cx="588.95" cy="137.32" r="1.70"/>
<circle cx="608.28" cy="382.84" r="1.70"/>
<circle cx="627.89" cy="114.38" r="1.70"/>
<circle cx="647.97" cy="413.84" r="1.70"/>
<circle cx="667.78" cy="117.48" r="1.70"/>
<circle cx="687.12" cy="400.82" r="1.70"/>
</g>
<path d="M391.72,221.00 L400.92,221.00 L396.32,228.80 Z" fill="#e6e634" stroke="#a06a28" stroke-width="0.45" stroke-linejoin="round"/>
<g font-size="11.00" fill="#000">
<text x="46.00" y="479.20" text-anchor="end">Sunrise</text>
<text x="746.10" y="479.20">Sunrise</text>
<text x="46.00" y="492.90" text-anchor="end">Sunset</text>
<text x="746.10" y="492.90">Sunset</text>
<text x="46.00" y="506.40" text-anchor="end">Moonrise</text>
<text x="746.10" y="506.40">Moonrise</text>
<text x="46.00" y="519.90" text-anchor="end">Moonset</text>
<text x="746.10" y="519.90">Moonset</text>
</g>
<g font-size="9.55" fill="#000">
<polygon points="103.39,481.40 105.39,485.65 110.05,486.24 106.62,489.45 107.51,494.06 103.39,491.80 99.28,494.06 100.16,489.45 96.73,486.24 101.39,485.65" fill="#96741f" stroke="#5c5212" stroke-width="0.50" stroke-linejoin="miter"/>
<circle cx="103.39" cy="488.50" r="3.85" fill="#e04530" stroke="#8a4a1c" stroke-width="0.50"/>
<text x="110.14" y="492.40">8:29pm</text>
<polygon points="135.92,467.75 137.92,472.00 142.58,472.59 139.15,475.80 140.03,480.41 135.92,478.15 131.80,480.41 132.69,475.80 129.26,472.59 133.92,472.00" fill="#a08a24" stroke="#6e5a14" stroke-width="0.50" stroke-linejoin="miter"/>
<circle cx="135.92" cy="474.85" r="4.20" fill="#c4bc00" stroke="#9a8a10" stroke-width="0.50"/>
<text x="142.92" y="478.00">6:46am</text>
<polygon points="179.78,481.40 181.78,485.65 186.44,486.24 183.02,489.45 183.90,494.06 179.78,491.80 175.67,494.06 176.55,489.45 173.13,486.24 177.79,485.65" fill="#96741f" stroke="#5c5212" stroke-width="0.50" stroke-linejoin="miter"/>
<circle cx="179.78" cy="488.50" r="3.85" fill="#e04530" stroke="#8a4a1c" stroke-width="0.50"/>
<text x="186.53" y="492.40">8:27pm</text>
<polygon points="212.53,467.75 214.52,472.00 219.18,472.59 215.76,475.80 216.64,480.41 212.53,478.15 208.41,480.41 209.29,475.80 205.87,472.59 210.53,472.00" fill="#a08a24" stroke="#6e5a14" stroke-width="0.50" stroke-linejoin="miter"/>
<circle cx="212.53" cy="474.85" r="4.20" fill="#c4bc00" stroke="#9a8a10" stroke-width="0.50"/>
<text x="219.53" y="478.00">6:48am</text>
<polygon points="256.12,481.40 258.12,485.65 262.78,486.24 259.36,489.45 260.24,494.06 256.12,491.80 252.01,494.06 252.89,489.45 249.47,486.24 254.13,485.65" fill="#96741f" stroke="#5c5212" stroke-width="0.50" stroke-linejoin="miter"/>
<circle cx="256.12" cy="488.50" r="3.85" fill="#e04530" stroke="#8a4a1c" stroke-width="0.50"/>
<text x="262.88" y="492.40">8:24pm</text>
<polygon points="289.13,467.75 291.13,472.00 295.79,472.59 292.36,475.80 293.25,480.41 289.13,478.15 285.02,480.41 285.90,475.80 282.47,472.59 287.13,472.00" fill="#a08a24" stroke="#6e5a14" stroke-width="0.50" stroke-linejoin="miter"/>
<circle cx="289.13" cy="474.85" r="4.20" fill="#c4bc00" stroke="#9a8a10" stroke-width="0.50"/>
<text x="296.13" y="478.00">6:50am</text>
<polygon points="332.52,481.40 334.52,485.65 339.18,486.24 335.75,489.45 336.63,494.06 332.52,491.80 328.40,494.06 329.29,489.45 325.86,486.24 330.52,485.65" fill="#96741f" stroke="#5c5212" stroke-width="0.50" stroke-linejoin="miter"/>
<circle cx="332.52" cy="488.50" r="3.85" fill="#e04530" stroke="#8a4a1c" stroke-width="0.50"/>
<text x="339.27" y="492.40">8:22pm</text>
<polygon points="365.68,467.75 367.68,472.00 372.34,472.59 368.92,475.80 369.80,480.41 365.68,478.15 361.57,480.41 362.45,475.80 359.03,472.59 363.69,472.00" fill="#a08a24" stroke="#6e5a14" stroke-width="0.50" stroke-linejoin="miter"/>
<circle cx="365.68" cy="474.85" r="4.20" fill="#c4bc00" stroke="#9a8a10" stroke-width="0.50"/>
<text x="372.68" y="478.00">6:51am</text>
<polygon points="408.91,481.40 410.91,485.65 415.57,486.24 412.15,489.45 413.03,494.06 408.91,491.80 404.80,494.06 405.68,489.45 402.26,486.24 406.91,485.65" fill="#96741f" stroke="#5c5212" stroke-width="0.50" stroke-linejoin="miter"/>
<circle cx="408.91" cy="488.50" r="3.85" fill="#e04530" stroke="#8a4a1c" stroke-width="0.50"/>
<text x="415.66" y="492.40">8:20pm</text>
<polygon points="442.29,467.75 444.29,472.00 448.95,472.59 445.52,475.80 446.41,480.41 442.29,478.15 438.18,480.41 439.06,475.80 435.63,472.59 440.29,472.00" fill="#a08a24" stroke="#6e5a14" stroke-width="0.50" stroke-linejoin="miter"/>
<circle cx="442.29" cy="474.85" r="4.20" fill="#c4bc00" stroke="#9a8a10" stroke-width="0.50"/>
<text x="449.29" y="478.00">6:53am</text>
<polygon points="485.25,481.40 487.25,485.65 491.91,486.24 488.49,489.45 489.37,494.06 485.25,491.80 481.14,494.06 482.02,489.45 478.60,486.24 483.25,485.65" fill="#96741f" stroke="#5c5212" stroke-width="0.50" stroke-linejoin="miter"/>
<circle cx="485.25" cy="488.50" r="3.85" fill="#e04530" stroke="#8a4a1c" stroke-width="0.50"/>
<text x="492.00" y="492.40">8:17pm</text>
<polygon points="518.90,467.75 520.90,472.00 525.55,472.59 522.13,475.80 523.01,480.41 518.90,478.15 514.78,480.41 515.66,475.80 512.24,472.59 516.90,472.00" fill="#a08a24" stroke="#6e5a14" stroke-width="0.50" stroke-linejoin="miter"/>
<circle cx="518.90" cy="474.85" r="4.20" fill="#c4bc00" stroke="#9a8a10" stroke-width="0.50"/>
<text x="525.90" y="478.00">6:55am</text>
<polygon points="561.65,481.40 563.65,485.65 568.30,486.24 564.88,489.45 565.76,494.06 561.65,491.80 557.53,494.06 558.41,489.45 554.99,486.24 559.65,485.65" fill="#96741f" stroke="#5c5212" stroke-width="0.50" stroke-linejoin="miter"/>
<circle cx="561.65" cy="488.50" r="3.85" fill="#e04530" stroke="#8a4a1c" stroke-width="0.50"/>
<text x="568.40" y="492.40">8:15pm</text>
<polygon points="595.45,467.75 597.45,472.00 602.11,472.59 598.68,475.80 599.56,480.41 595.45,478.15 591.34,480.41 592.22,475.80 588.79,472.59 593.45,472.00" fill="#a08a24" stroke="#6e5a14" stroke-width="0.50" stroke-linejoin="miter"/>
<circle cx="595.45" cy="474.85" r="4.20" fill="#c4bc00" stroke="#9a8a10" stroke-width="0.50"/>
<text x="602.45" y="478.00">6:56am</text>
<polygon points="638.04,481.40 640.04,485.65 644.70,486.24 641.27,489.45 642.16,494.06 638.04,491.80 633.93,494.06 634.81,489.45 631.38,486.24 636.04,485.65" fill="#96741f" stroke="#5c5212" stroke-width="0.50" stroke-linejoin="miter"/>
<circle cx="638.04" cy="488.50" r="3.85" fill="#e04530" stroke="#8a4a1c" stroke-width="0.50"/>
<text x="644.79" y="492.40">8:13pm</text>
<polygon points="672.06,467.75 674.05,472.00 678.71,472.59 675.29,475.80 676.17,480.41 672.06,478.15 667.94,480.41 668.82,475.80 665.40,472.59 670.06,472.00" fill="#a08a24" stroke="#6e5a14" stroke-width="0.50" stroke-linejoin="miter"/>
<circle cx="672.06" cy="474.85" r="4.20" fill="#c4bc00" stroke="#9a8a10" stroke-width="0.50"/>
<text x="679.06" y="478.00">6:58am</text>
<circle cx="109.34" cy="502.00" r="5.10" fill="#ffffcc" stroke="#80806e" stroke-width="1.00"/>
<text x="116.04" y="506.50">10:20pm</text>
<circle cx="188.12" cy="502.00" r="5.10" fill="#ffffcc" stroke="#80806e" stroke-width="1.00"/>
<text x="194.82" y="506.50">11:03pm</text>
<circle cx="267.60" cy="502.00" r="5.10" fill="#ffffcc" stroke="#80806e" stroke-width="1.00"/>
<text x="274.30" y="506.50">11:59pm</text>
<circle cx="347.92" cy="502.00" r="5.10" fill="#ffffcc" stroke="#80806e" stroke-width="1.00"/>
<text x="354.62" y="505.70">1:11am</text>
<circle cx="428.83" cy="502.00" r="5.10" fill="#ffffcc" stroke="#80806e" stroke-width="1.00"/>
<text x="435.53" y="505.70">2:34am</text>
<circle cx="510.06" cy="502.00" r="5.10" fill="#ffffcc" stroke="#80806e" stroke-width="1.00"/>
<text x="516.76" y="505.70">4:03am</text>
<circle cx="591.39" cy="502.00" r="5.10" fill="#ffffcc" stroke="#80806e" stroke-width="1.00"/>
<text x="598.09" y="505.70">5:34am</text>
<circle cx="672.73" cy="502.00" r="5.10" fill="#ffffcc" stroke="#80806e" stroke-width="1.00"/>
<text x="679.43" y="505.70">7:05am</text>
<circle cx="84.63" cy="515.75" r="5.10" fill="#c6c4b6" stroke="#7e7e74" stroke-width="1.00"/>
<text x="91.33" y="520.20">2:35pm</text>
<circle cx="164.80" cy="515.75" r="5.10" fill="#c6c4b6" stroke="#7e7e74" stroke-width="1.00"/>
<text x="171.50" y="520.20">3:44pm</text>
<circle cx="244.49" cy="515.75" r="5.10" fill="#c6c4b6" stroke="#7e7e74" stroke-width="1.00"/>
<text x="251.19" y="520.20">4:44pm</text>
<circle cx="323.59" cy="515.75" r="5.10" fill="#c6c4b6" stroke="#7e7e74" stroke-width="1.00"/>
<text x="330.29" y="520.20">5:33pm</text>
<circle cx="402.11" cy="515.75" r="5.10" fill="#c6c4b6" stroke="#7e7e74" stroke-width="1.00"/>
<text x="408.81" y="520.20">6:11pm</text>
<circle cx="480.15" cy="515.75" r="5.10" fill="#c6c4b6" stroke="#7e7e74" stroke-width="1.00"/>
<text x="486.85" y="520.20">6:40pm</text>
<circle cx="557.87" cy="515.75" r="5.10" fill="#c6c4b6" stroke="#7e7e74" stroke-width="1.00"/>
<text x="564.57" y="520.20">7:03pm</text>
<circle cx="635.38" cy="515.75" r="5.10" fill="#c6c4b6" stroke="#7e7e74" stroke-width="1.00"/>
<text x="642.08" y="520.20">7:22pm</text>
<text x="162.40" y="532.50" font-size="9.30" text-anchor="middle">Last Quarter | 6:21pm</text>
<text x="682.50" y="532.50" font-size="9.50" text-anchor="middle">New Moon | 11:29am</text>
</g>
</svg></body></html>
